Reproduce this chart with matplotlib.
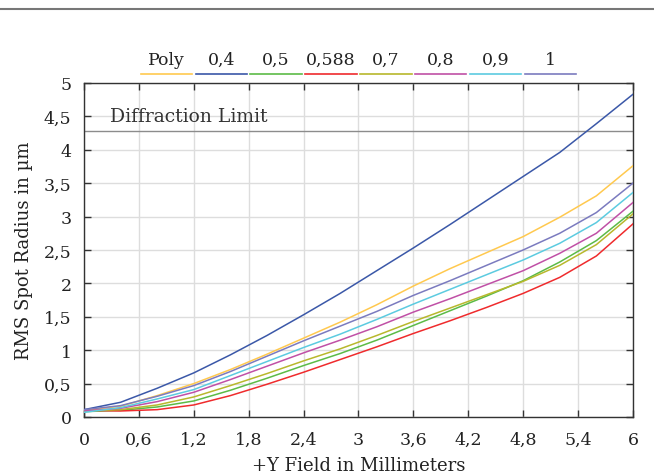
import matplotlib.pyplot as plt
from matplotlib.lines import Line2D
from matplotlib.ticker import FuncFormatter, MultipleLocator

# field positions (mm) and RMS spot radius (um) per wavelength
field = [0, 0.4, 0.8, 1.2, 1.6, 2.0, 2.4, 2.8, 3.2, 3.6, 4.0, 4.4, 4.8, 5.2, 5.6, 6.0]

rms_poly = [0.10, 0.16, 0.32, 0.50, 0.71, 0.94, 1.18, 1.42, 1.68, 1.96, 2.22, 2.46, 2.70, 2.99, 3.31, 3.76]
rms_040 = [0.11, 0.22, 0.43, 0.66, 0.93, 1.22, 1.53, 1.85, 2.19, 2.53, 2.88, 3.24, 3.60, 3.96, 4.39, 4.83]
rms_050 = [0.08, 0.10, 0.15, 0.24, 0.40, 0.58, 0.77, 0.95, 1.15, 1.37, 1.59, 1.81, 2.04, 2.32, 2.64, 3.08]
rms_0588 = [0.10, 0.09, 0.11, 0.18, 0.32, 0.49, 0.67, 0.86, 1.05, 1.25, 1.44, 1.64, 1.85, 2.09, 2.41, 2.89]
rms_070 = [0.09, 0.11, 0.18, 0.30, 0.47, 0.65, 0.84, 1.02, 1.22, 1.43, 1.63, 1.83, 2.03, 2.27, 2.58, 3.04]
rms_080 = [0.09, 0.13, 0.23, 0.37, 0.56, 0.76, 0.96, 1.15, 1.35, 1.57, 1.77, 1.98, 2.19, 2.45, 2.75, 3.21]
rms_090 = [0.07, 0.14, 0.27, 0.41, 0.62, 0.83, 1.04, 1.24, 1.46, 1.69, 1.91, 2.13, 2.35, 2.60, 2.91, 3.36]
rms_100 = [0.11, 0.17, 0.31, 0.47, 0.68, 0.91, 1.14, 1.36, 1.58, 1.82, 2.04, 2.27, 2.50, 2.75, 3.06, 3.50]

series_labels = ["Poly", "0,4", "0,5", "0,588", "0,7", "0,8", "0,9", "1"]
series_values = [rms_poly, rms_040, rms_050, rms_0588, rms_070, rms_080, rms_090, rms_100]
series_colors = ["#ffc94f", "#3b58a8", "#5cbb47", "#ef2b2d", "#b8b82c", "#c050a6", "#5ccbe0", "#7b7bbf"]

diffraction_limit = 4.28

plt.rcParams["font.family"] = ["DejaVu Serif"]
plt.rcParams["font.size"] = 12.5

fig = plt.figure(figsize=(6.54, 4.77), dpi=100)
ax = fig.add_axes([0.1284, 0.1237, 0.8394, 0.7003])

for vals, col in zip(series_values, series_colors):
    ax.plot(field, vals, color=col, lw=1.1, zorder=3)

ax.axhline(diffraction_limit, color="#8c8c8c", lw=1.0, zorder=2)
ax.text(0.28, diffraction_limit + 0.09, "Diffraction Limit", ha="left", va="bottom",
        color="#333333", fontsize=13.5)

ax.set_xlim(0, 6)
ax.set_ylim(0, 5)
ax.xaxis.set_major_locator(MultipleLocator(0.6))
ax.yaxis.set_major_locator(MultipleLocator(0.5))

comma = FuncFormatter(lambda v, p: f"{v:g}".replace(".", ","))
ax.xaxis.set_major_formatter(comma)
ax.yaxis.set_major_formatter(comma)

ax.grid(True, color="#dddddd", lw=1.0, zorder=0)
ax.tick_params(direction="in", length=5, width=1, color="#333333",
               top=True, right=True, labelcolor="#222222", pad=9)
ax.tick_params(axis="x", pad=10)
for s in ax.spines.values():
    s.set_color("#333333")
    s.set_linewidth(1.0)

ax.set_xlabel("+Y Field in Millimeters", color="#222222", labelpad=6, fontsize=13)
ax.set_ylabel("RMS Spot Radius in µm", color="#222222", labelpad=8, fontsize=13)

# legend drawn as labels above coloured segments between the top ticks
xticks = [0.6 * i for i in range(1, 10)]
for i, (lab, col) in enumerate(zip(series_labels, series_colors)):
    x0, x1 = xticks[i] + 0.02, xticks[i + 1] - 0.02
    ax.add_line(Line2D([x0, x1], [5.13, 5.13], color=col, lw=1.2, clip_on=False))
    ax.text((x0 + x1) / 2, 5.35, lab, ha="center", va="center", color="#222222")

# page rule at the top
fig.add_artist(Line2D([0, 1], [1 - 10 / 477, 1 - 10 / 477], color="#777777", lw=1.5))

fig.savefig("out.png", dpi=100)
